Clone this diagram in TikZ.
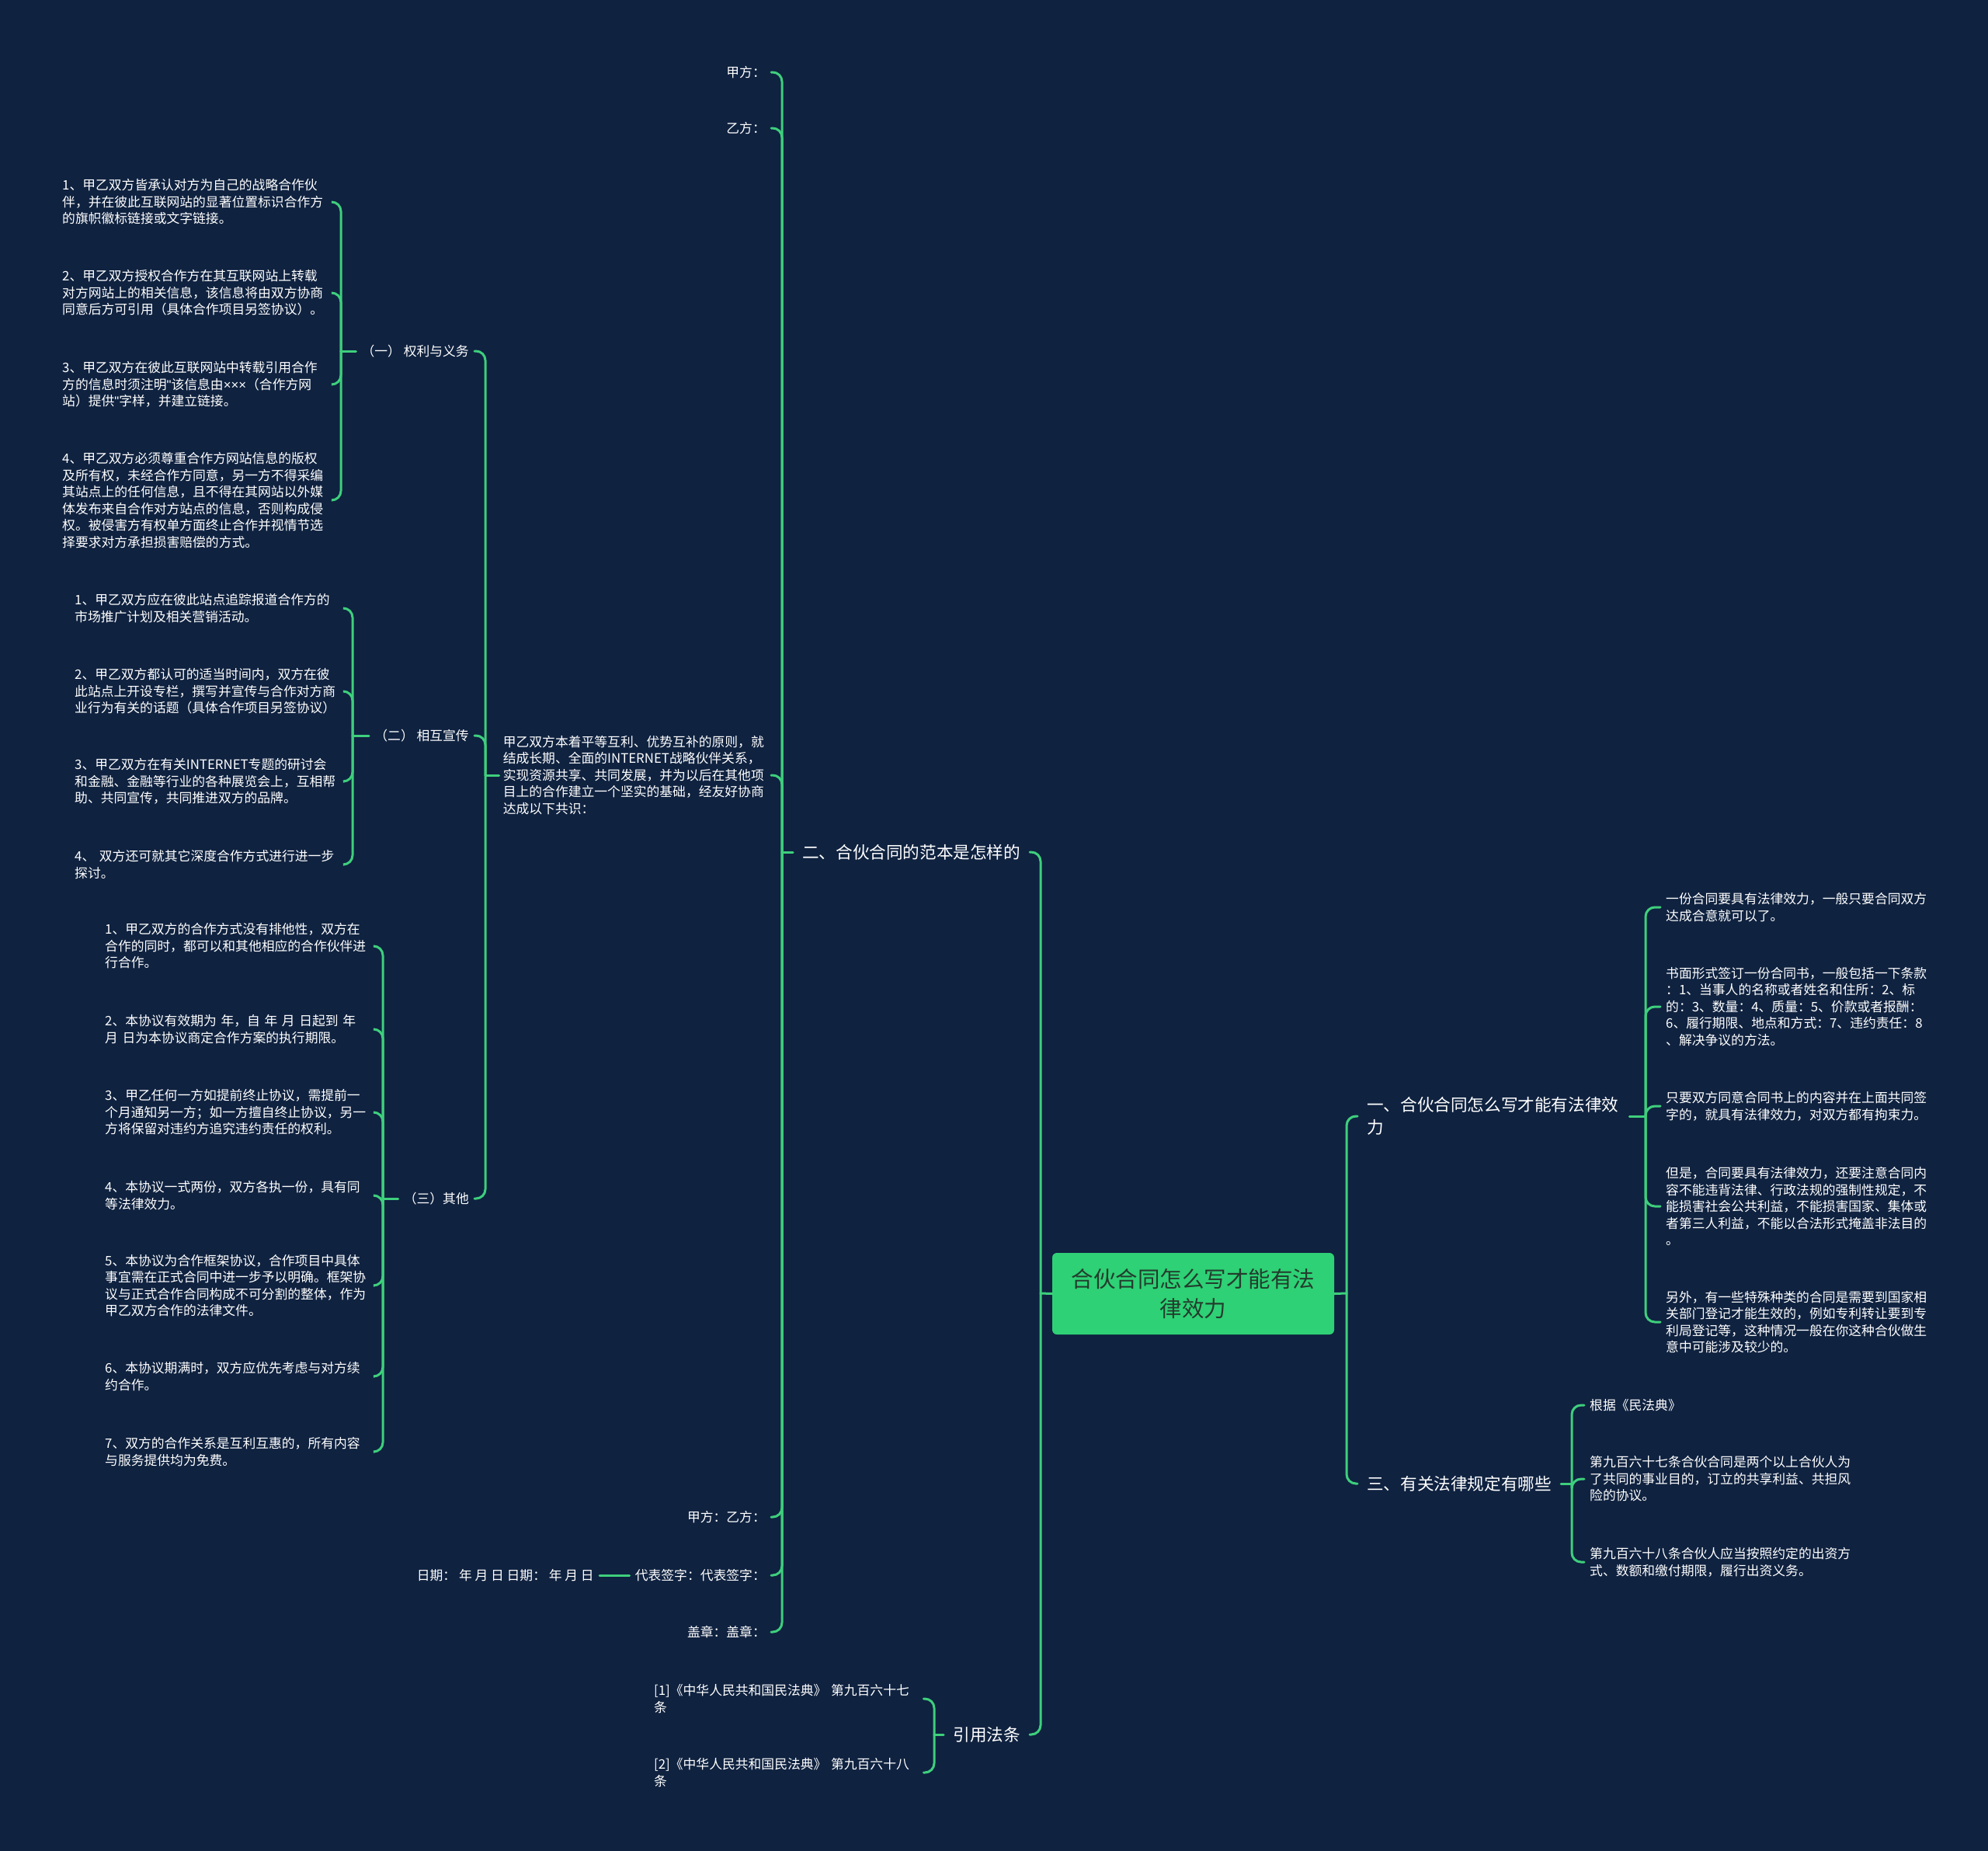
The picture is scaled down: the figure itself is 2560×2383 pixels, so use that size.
\documentclass[tikz,border=0pt]{standalone}
\usepackage{fontspec}
\setmainfont{Noto Sans CJK SC}
\newfontfamily\latinf{Liberation Sans}
\definecolor{bg}{RGB}{15,34,64}
\definecolor{ln}{RGB}{62,207,124}
\definecolor{rootfill}{RGB}{46,209,117}
\definecolor{roottxt}{RGB}{35,60,45}
\newcommand\SmallTxt{\fontsize{16.8pt}{21.5pt}\selectfont}
\newcommand\MidTxt{\fontsize{21.6pt}{29.4pt}\selectfont}
\newcommand\RootTxt{\fontsize{28.5pt}{37.5pt}\selectfont}
\tikzset{
  sm/.style={font=\SmallTxt, text=white, inner sep=0pt, align=left},
  itm/.style={sm, text width=340pt},
  mid/.style={font=\MidTxt, text=white, inner sep=0pt, align=left},
  link/.style={draw=ln, line width=3pt, rounded corners=12pt, line cap=round},
  rootbox/.style={fill=rootfill, text=roottxt, font=\RootTxt, rounded corners=6pt,
    minimum width=363pt, minimum height=105pt, align=center, inner sep=0pt}
}
\begin{document}
\begin{tikzpicture}[x=1pt,y=-1pt]
\fill[bg] (0,0) rectangle (2560,2383);
\useasboundingbox (0,0) rectangle (2560,2383);

% root
\node[rootbox] (root) at (1536.5,1665.5) {合伙合同怎么写才能有法\\律效力};
\coordinate (tL) at (1340,1665);
\coordinate (tR) at (1734,1665);
\draw[link] (root.west) -- (tL);
\draw[link] (root.east) -- (tR);

% level 1
\node[mid, anchor=west] (er) at (1033,1097) {二、合伙合同的范本是怎样的};
\node[mid, anchor=east] (yin) at (1314,2233) {引用法条};
\node[mid, anchor=west, text width=326pt] (yi) at (1760,1437) {一、合伙合同怎么写才能有法律效\\力};
\node[mid, anchor=west] (san) at (1760,1910) {三、有关法律规定有哪些};
\draw[link] (tL) |- ([xshift=12pt]er.east);
\draw[link] (tL) |- ([xshift=12pt]yin.east);
\draw[link] (tR) |- ([xshift=-12pt]yi.west);
\draw[link] (tR) |- ([xshift=-12pt]san.west);

% children of er
\coordinate (t2) at (1007,1097);
\draw[link] ([xshift=-12pt]er.west) -- (t2);
\node[sm, anchor=east] (jia) at (986,93) {甲方：};
\node[sm, anchor=east] (yif) at (986,165) {乙方：};
\node[sm, anchor=east, text width=338pt] (blk) at (986,998) {甲乙双方本着平等互利、优势互补的原则，就\\结成长期、全面的INTERNET战略伙伴关系，\\实现资源共享、共同发展，并为以后在其他项\\目上的合作建立一个坚实的基础，经友好协商\\达成以下共识：};
\node[sm, anchor=east] (jy) at (986,1953) {甲方：乙方：};
\node[sm, anchor=east] (db) at (986,2028) {代表签字：代表签字：};
\node[sm, anchor=east] (gz) at (986,2101) {盖章：盖章：};
\node[sm, anchor=east] (rq) at (765,2028) {日期：~年~月~日~日期：~年~月~日};
\foreach \n in {jia,yif,blk,jy,db,gz} {\draw[link] (t2) |- ([xshift=7pt]\n.east);}
\draw[link] ([xshift=7pt]rq.east) -- ([xshift=-7pt]db.west);

% children of block
\coordinate (tB) at (625,998);
\draw[link] ([xshift=-5pt]blk.west) -- (tB);
\node[sm, anchor=east] (q1) at (604,452) {（一） 权利与义务};
\node[sm, anchor=east] (q2) at (604,947) {（二） 相互宣传};
\node[sm, anchor=east] (q3) at (604,1543) {（三）其他};
\foreach \n in {q1,q2,q3} {\draw[link] (tB) |- ([xshift=7pt]\n.east);}

% (一)
\coordinate (t1) at (439,452);
\draw[link] ([xshift=-7pt]q1.west) -- (t1);
\node[itm, anchor=west] (a1) at (80,260) {1、甲乙双方皆承认对方为自己的战略合作伙\\伴，并在彼此互联网站的显著位置标识合作方\\的旗帜徽标链接或文字链接。};
\node[itm, anchor=west] (a2) at (80,377) {2、甲乙双方授权合作方在其互联网站上转载\\对方网站上的相关信息，该信息将由双方协商\\同意后方可引用（具体合作项目另签协议）。};
\node[itm, anchor=west] (a3) at (80,495) {3、甲乙双方在彼此互联网站中转载引用合作\\方的信息时须注明{\latinf"}该信息由{\latinf×××}（合作方网\\站）提供{\latinf"}字样，并建立链接。};
\node[itm, anchor=west] (a4) at (80,644) {4、甲乙双方必须尊重合作方网站信息的版权\\及所有权，未经合作方同意，另一方不得采编\\其站点上的任何信息，且不得在其网站以外媒\\体发布来自合作对方站点的信息，否则构成侵\\权。被侵害方有权单方面终止合作并视情节选\\择要求对方承担损害赔偿的方式。};
\foreach \n in {a1,a2,a3,a4} {\draw[link] (t1) |- ([xshift=7pt]\n.east);}

% (二)
\coordinate (t2b) at (454,947);
\draw[link] ([xshift=-7pt]q2.west) -- (t2b);
\node[itm, anchor=west] (b1) at (96,783) {1、甲乙双方应在彼此站点追踪报道合作方的\\市场推广计划及相关营销活动。};
\node[itm, anchor=west] (b2) at (96,890) {2、甲乙双方都认可的适当时间内，双方在彼\\此站点上开设专栏，撰写并宣传与合作对方商\\业行为有关的话题（具体合作项目另签协议）};
\node[itm, anchor=west] (b3) at (96,1006) {3、甲乙双方在有关INTERNET专题的研讨会\\和金融、金融等行业的各种展览会上，互相帮\\助、共同宣传，共同推进双方的品牌。};
\node[itm, anchor=west] (b4) at (96,1113) {4、~双方还可就其它深度合作方式进行进一步\\探讨。};
\foreach \n in {b1,b2,b3,b4} {\draw[link] (t2b) |- ([xshift=7pt]\n.east);}

% (三)
\coordinate (t3) at (493,1543);
\draw[link] ([xshift=-7pt]q3.west) -- (t3);
\node[itm, anchor=west] (c1) at (135,1218) {1、甲乙双方的合作方式没有排他性，双方在\\合作的同时，都可以和其他相应的合作伙伴进\\行合作。};
\node[itm, anchor=west] (c2) at (135,1325) {2、本协议有效期为~年，自~年~月~日起到~年\\月~日为本协议商定合作方案的执行期限。};
\node[itm, anchor=west] (c3) at (135,1432) {3、甲乙任何一方如提前终止协议，需提前一\\个月通知另一方；如一方擅自终止协议，另一\\方将保留对违约方追究违约责任的权利。};
\node[itm, anchor=west] (c4) at (135,1539) {4、本协议一式两份，双方各执一份，具有同\\等法律效力。};
\node[itm, anchor=west] (c5) at (135,1655) {5、本协议为合作框架协议，合作项目中具体\\事宜需在正式合同中进一步予以明确。框架协\\议与正式合作合同构成不可分割的整体，作为\\甲乙双方合作的法律文件。};
\node[itm, anchor=west] (c6) at (135,1772) {6、本协议期满时，双方应优先考虑与对方续\\约合作。};
\node[itm, anchor=west] (c7) at (135,1869) {7、双方的合作关系是互利互惠的，所有内容\\与服务提供均为免费。};
\foreach \n in {c1,c2,c3,c4,c5,c6,c7} {\draw[link] (t3) |- ([xshift=7pt]\n.east);}

% 引用法条
\coordinate (tY) at (1203,2233);
\draw[link] ([xshift=-12pt]yin.west) -- (tY);
\node[itm, anchor=west] (r1) at (842,2187) {{[1]}《中华人民共和国民法典》~第九百六十七\\条};
\node[itm, anchor=west] (r2) at (842,2282) {{[2]}《中华人民共和国民法典》~第九百六十八\\条};
\foreach \n in {r1,r2} {\draw[link] (tY) |- ([xshift=7pt]\n.east);}

% 一
\coordinate (tYi) at (2119,1437);
\draw[link] ([xshift=12pt]yi.east) -- (tYi);
\node[itm, anchor=west] (d1) at (2145,1168) {一份合同要具有法律效力，一般只要合同双方\\达成合意就可以了。};
\node[itm, anchor=west] (d2) at (2145,1296) {书面形式签订一份合同书，一般包括一下条款\\：1、当事人的名称或者姓名和住所：2、标\\的：3、数量：4、质量：5、价款或者报酬：\\6、履行期限、地点和方式：7、违约责任：8\\、解决争议的方法。};
\node[itm, anchor=west] (d3) at (2145,1424) {只要双方同意合同书上的内容并在上面共同签\\字的，就具有法律效力，对双方都有拘束力。};
\node[itm, anchor=west] (d4) at (2145,1553) {但是，合同要具有法律效力，还要注意合同内\\容不能违背法律、行政法规的强制性规定，不\\能损害社会公共利益，不能损害国家、集体或\\者第三人利益，不能以合法形式掩盖非法目的\\。};
\node[itm, anchor=west] (d5) at (2145,1702) {另外，有一些特殊种类的合同是需要到国家相\\关部门登记才能生效的，例如专利转让要到专\\利局登记等，这种情况一般在你这种合伙做生\\意中可能涉及较少的。};
\foreach \n in {d1,d2,d3,d4,d5} {\draw[link] (tYi) |- ([xshift=-7pt]\n.west);}

% 三
\coordinate (tS) at (2024,1910);
\draw[link] ([xshift=12pt]san.east) -- (tS);
\node[itm, anchor=west] (e1) at (2047,1809) {根据《民法典》};
\node[itm, anchor=west] (e2) at (2047,1904) {第九百六十七条合伙合同是两个以上合伙人为\\了共同的事业目的，订立的共享利益、共担风\\险的协议。};
\node[itm, anchor=west] (e3) at (2047,2011) {第九百六十八条合伙人应当按照约定的出资方\\式、数额和缴付期限，履行出资义务。};
\foreach \n in {e1,e2,e3} {\draw[link] (tS) |- ([xshift=-7pt]\n.west);}
\end{tikzpicture}
\end{document}
